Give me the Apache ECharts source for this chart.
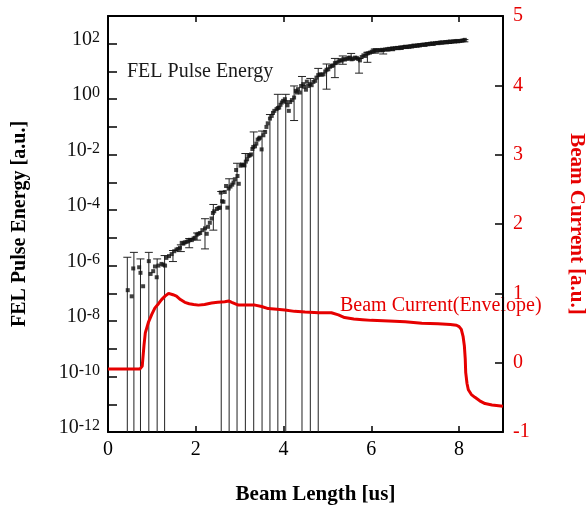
<!DOCTYPE html>
<html><head><meta charset="utf-8">
<script src="https://cdn.jsdelivr.net/npm/echarts@6/dist/echarts.min.js"></script>
<style>html,body{margin:0;padding:0;background:#fff}#c{width:587px;height:510px}</style>
</head><body><div id="c"></div>
<script>
// ---- FEL pulse energy (black points) ----
const felX = [0.45,0.54,0.575,0.71,0.74,0.80,0.93,0.97,1.03,1.07,1.11,1.15,1.22,1.26,1.30,1.33,1.39,1.45,1.51,1.56,1.60,1.64,1.68,1.72,1.75,1.79,1.83,1.87,1.91,1.95,1.98,2.02,2.06,2.10,2.15,2.21,2.25,2.28,2.32,2.36,2.39,2.42,2.48,2.52,2.55,2.57,2.60,2.63,2.66,2.69,2.72,2.75,2.79,2.83,2.86,2.89,2.92,2.95,2.98,3.02,3.05,3.08,3.11,3.14,3.17,3.20,3.23,3.26,3.29,3.31,3.35,3.38,3.41,3.44,3.46,3.50,3.54,3.58,3.61,3.64,3.69,3.73,3.76,3.79,3.84,3.87,3.90,3.93,3.96,3.99,4.03,4.06,4.09,4.12,4.15,4.19,4.24,4.28,4.30,4.33,4.37,4.40,4.45,4.47,4.51,4.53,4.56,4.60,4.64,4.68,4.72,4.75,4.79,4.83,4.87,4.91,4.95,4.98,5.02,5.06,5.10,5.13,5.17,5.21,5.25,5.28,5.32,5.36,5.40,5.44,5.48,5.51,5.55,5.59,5.63,5.67,5.70,5.74,5.78,5.82,5.86,5.89,5.93,5.97,6.01,6.05,6.08,6.12,6.16,6.20,6.24,6.27,6.31,6.35,6.39,6.43,6.47,6.50,6.54,6.58,6.62,6.66,6.70,6.74,6.77,6.81,6.85,6.89,6.93,6.96,7.00,7.04,7.08,7.11,7.15,7.19,7.23,7.26,7.30,7.34,7.38,7.41,7.45,7.49,7.53,7.56,7.60,7.64,7.68,7.72,7.75,7.79,7.83,7.87,7.91,7.94,7.98,8.02,8.06,8.10,8.13];
const felEnergy = [1.3e-7,7.8e-8,7.9e-7,8.7e-7,5.5e-7,1.8e-7,1.45e-6,5.0e-7,6.3e-7,9.3e-7,3.8e-7,1.0e-6,1.15e-6,1.07e-6,1.0e-6,1.9e-6,2.2e-6,2.6e-6,3.3e-6,3.8e-6,4.0e-6,4.4e-6,6.6e-6,6.3e-6,6.9e-6,7.2e-6,7.6e-6,8.5e-6,8.3e-6,9.5e-6,1.0e-5,1.3e-5,1.4e-5,1.5e-5,1.9e-5,2.2e-5,1.4e-5,2.5e-5,3.5e-5,5.0e-5,7.9e-5,9.1e-5,1.1e-4,1.2e-4,1.23e-4,4.3e-4,2.1e-4,2.0e-4,4.5e-4,7.4e-4,1.23e-4,6.0e-4,7.1e-4,8.3e-4,9.8e-4,1.3e-3,2.8e-3,1.7e-3,8.9e-4,4.0e-3,4.4e-3,4.2e-3,4.1e-3,5.6e-3,6.8e-3,8.9e-3,9.5e-3,1.02e-2,1.6e-2,1.9e-2,2.0e-2,2.5e-2,3.5e-2,3.8e-2,4.1e-2,1.55e-2,5.0e-2,6.6e-2,0.1,0.135,0.2,0.25,0.32,0.38,0.44,0.48,0.5,0.63,0.76,0.87,1.0,0.79,0.6,0.38,0.79,0.93,1.15,2.0,1.74,2.3,1.74,3.0,3.5,2.8,2.2,4.3,3.0,3.5,3.2,4.2,4.6,6.0,7.4,7.9,7.6,7.9,10,11.5,12,14.8,15.8,16.6,20,20.4,22.9,25.7,24.5,27.5,27,28.8,30.9,31.6,27.5,29.5,31.6,30.9,28.2,25.1,33.1,38,36.3,43.7,45.7,47.9,51.3,53.7,58.9,56.2,58.9,57.5,60.3,58.9,61.7,63.1,61.7,64.6,67.6,66.1,69.2,70.8,69.2,74.1,72.4,75.9,77.6,75.9,79.4,81.3,79.4,85.1,83.2,87.1,89.1,87.1,91.2,93.3,91.2,97.7,95.5,100,102,100,105,107,105,110,112,110,115,112,117,120,117,123,120,126,123,126,129,132,138];

// ---- error bars (0 = lower bound below the axis) ----
const errX  = [0.44,0.59,0.74,0.93,1.12,1.29,1.48,1.66,1.85,2.03,2.21,2.40,2.58,2.76,2.94,3.13,3.32,3.51,3.69,3.87,4.05,4.24,4.42,4.61,4.79,4.98,5.17,5.35,5.54,5.72,5.91,6.08,6.27,6.45,6.64,6.82,7.01,7.19,7.38,7.56,7.75,7.93,8.12];
const errLow  = [0,0,0,0,0,0,1.4e-6,3.2e-6,4.4e-6,8.3e-6,4.0e-6,1.9e-5,0,0,0,0,0,0,0,0,0,0.17,0,0,0,2.3,6.0,18.2,25.7,8.7,21.4,45.7,42.7,56,63,69,76,83,89,98,102,110,117];
const errHigh = [2.0e-6,3.0e-6,1.74e-6,3.0e-6,1.74e-6,2.3e-6,3.5e-6,5.6e-6,9.5e-6,1.5e-5,4.9e-5,1.6e-4,4.7e-4,1.35e-3,4.9e-3,1.1e-2,6.6e-2,7.1e-2,0.28,1.5,1.5,3.0,6.6,5.6,12.9,18.6,29.5,36.3,44.7,29.5,49,64.6,60.3,74,79,87,95,102,110,117,126,132,141];

// ---- beam current (red line, right axis) ----
const beamX = [0,0.73,0.78,0.82,0.85,0.92,1.00,1.07,1.15,1.22,1.30,1.38,1.42,1.48,1.56,1.65,1.75,1.85,1.95,2.06,2.20,2.36,2.50,2.66,2.75,2.82,2.97,3.15,3.35,3.50,3.65,3.85,4.03,4.25,4.49,4.80,5.09,5.25,5.39,5.60,5.80,6.00,6.40,6.77,7.15,7.52,7.80,7.94,8.00,8.05,8.09,8.12,8.14,8.15,8.18,8.21,8.28,8.36,8.47,8.59,8.75,9.0];
const beamCurrent = [-0.09,-0.09,-0.05,0.25,0.43,0.58,0.70,0.79,0.85,0.91,0.96,1.00,1.01,0.98,0.96,0.91,0.87,0.85,0.84,0.83,0.84,0.86,0.87,0.88,0.89,0.87,0.83,0.83,0.83,0.81,0.78,0.77,0.76,0.74,0.73,0.72,0.72,0.69,0.65,0.63,0.62,0.61,0.60,0.59,0.57,0.56,0.55,0.54,0.52,0.48,0.38,0.24,0.05,-0.14,-0.30,-0.39,-0.46,-0.50,-0.55,-0.59,-0.61,-0.63];

const SERIF = "'Liberation Serif', 'Times New Roman', serif";
const RED = '#e60000';
const chart = echarts.init(document.getElementById('c'), null, {renderer: 'canvas'});

const felData = felX.map((x, i) => [x, felEnergy[i]]);
const errData = errX.map((x, i) => [x, errLow[i], errHigh[i]]);
const beamData = beamX.map((x, i) => [x, beamCurrent[i]]);

const option = {
  animation: false,
  backgroundColor: '#fff',
  grid: {left: 108, right: 84, top: 16, bottom: 78, containLabel: false, outerBoundsMode: 'none'},
  xAxis: [{
    type: 'value', min: 0, max: 9, interval: 2, position: 'bottom',
    name: 'Beam Length [us]', nameLocation: 'middle', nameGap: 52,
    nameTextStyle: {fontFamily: SERIF, fontSize: 21, fontWeight: 'bold', color: '#000', padding: [0, 0, 0, 20]},
    axisLine: {show: true, onZero: false, lineStyle: {color: '#000', width: 2}},
    axisTick: {show: true, inside: true, length: 6, lineStyle: {color: '#000', width: 1.5}},
    axisLabel: {fontFamily: SERIF, fontSize: 20, color: '#000', margin: 8, showMaxLabel: false},
    splitLine: {show: false}
  }, {
    type: 'value', min: 0, max: 9, interval: 2, position: 'top',
    axisLine: {show: true, onZero: false, lineStyle: {color: '#000', width: 2}},
    axisTick: {show: true, inside: true, length: 6, lineStyle: {color: '#000', width: 1.5}},
    axisLabel: {show: false}, splitLine: {show: false}
  }],
  yAxis: [{
    type: 'log', logBase: 10, min: 1e-12, max: 1e3, splitNumber: 15, interval: 1, position: 'left',
    name: 'FEL Pulse Energy [a.u.]', nameLocation: 'middle', nameGap: 78, nameRotate: 90,
    nameTextStyle: {fontFamily: SERIF, fontSize: 20, fontWeight: 'bold', color: '#000'},
    axisLine: {show: true, onZero: false, lineStyle: {color: '#000', width: 2}},
    axisTick: {show: true, inside: true, length: 9, lineStyle: {color: '#000', width: 1.5}},
    axisLabel: {
      margin: 8,
      padding: [0, 0, 8, 0],
      formatter: function (v) {
        const e = Math.round(Math.log10(v));
        return (e % 2 === 0) ? '{b|10}{s|' + e + '}' : '';
      },
      rich: {
        b: {fontFamily: SERIF, fontSize: 20, color: '#111', verticalAlign: 'bottom', lineHeight: 20},
        s: {fontFamily: SERIF, fontSize: 16, color: '#111', verticalAlign: 'top', lineHeight: 16, padding: [0, 0, 15, 0]}
      }
    },
    splitLine: {show: false}, minorTick: {show: false}
  }, {
    type: 'value', min: -1, max: 5, interval: 1, position: 'right',
    name: 'Beam Current [a.u.]', nameLocation: 'middle', nameGap: 63, nameRotate: -90,
    nameTextStyle: {fontFamily: SERIF, fontSize: 21, fontWeight: 'bold', color: RED},
    axisLine: {show: true, onZero: false, lineStyle: {color: '#000', width: 2}},
    axisTick: {show: true, inside: true, length: 8, lineStyle: {color: '#000', width: 1.5}},
    axisLabel: {fontFamily: SERIF, fontSize: 20, color: RED, margin: 10},
    splitLine: {show: false}
  }],
  graphic: [
    {type: 'text', left: 127, top: 62, style: {text: 'FEL Pulse Energy', fontFamily: SERIF, fontSize: 20, fill: '#1a1a1a'}},
    {type: 'text', left: 340, top: 296, style: {text: 'Beam Current(Envelope)', fontFamily: SERIF, fontSize: 20, fill: RED}}
  ],
  series: [{
    type: 'custom', name: 'err', xAxisIndex: 0, yAxisIndex: 0, z: 2,
    encode: {x: 0, y: 2},
    data: errData,
    renderItem: function (params, api) {
      const x = api.value(0), lo = api.value(1), hi = api.value(2);
      const top = api.coord([x, hi]);
      const bot = api.coord([x, lo > 0 ? lo : 1e-12]);
      const st = {stroke: '#222', lineWidth: 1};
      const hw = 4;
      const ch = [
        {type: 'line', shape: {x1: top[0], y1: top[1], x2: bot[0], y2: bot[1]}, style: st},
        {type: 'line', shape: {x1: top[0] - hw, y1: top[1], x2: top[0] + hw, y2: top[1]}, style: st}
      ];
      if (lo > 0) ch.push({type: 'line', shape: {x1: bot[0] - hw, y1: bot[1], x2: bot[0] + hw, y2: bot[1]}, style: st});
      return {type: 'group', children: ch};
    }
  }, {
    type: 'scatter', name: 'FEL', xAxisIndex: 0, yAxisIndex: 0, z: 3,
    symbol: 'rect', symbolSize: 4, itemStyle: {color: '#111'},
    data: felData
  }, {
    type: 'line', name: 'Beam', xAxisIndex: 0, yAxisIndex: 1, z: 4,
    showSymbol: false, symbol: 'none',
    lineStyle: {color: RED, width: 3},
    data: beamData
  }]
};
chart.setOption(option);
</script>
</body></html>
